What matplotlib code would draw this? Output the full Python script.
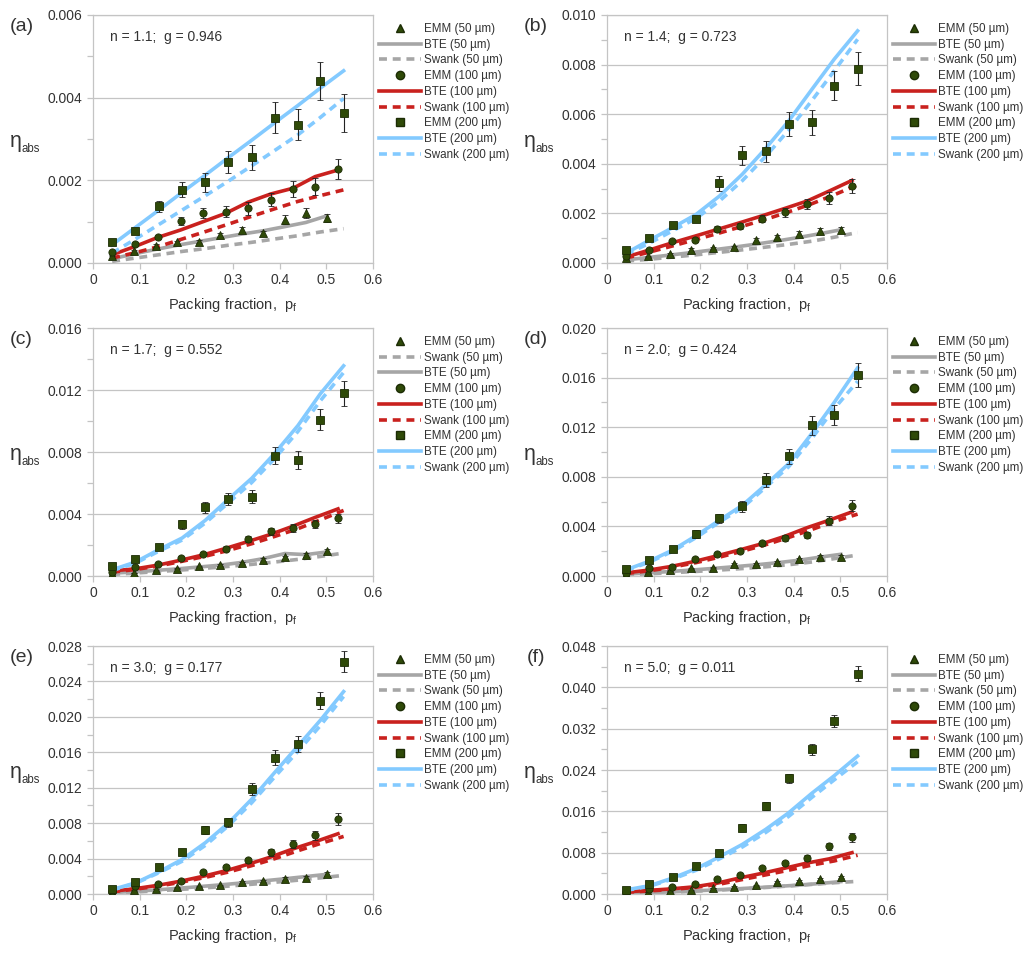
import numpy as np
import matplotlib
matplotlib.use("Agg")
import matplotlib.pyplot as plt
from matplotlib.lines import Line2D
from matplotlib.ticker import MultipleLocator, FormatStrFormatter

plt.rcParams['font.family'] = ['Liberation Sans', 'DejaVu Sans']
plt.rcParams['mathtext.fontset'] = 'custom'
plt.rcParams['mathtext.rm'] = 'Liberation Sans'
plt.rcParams['mathtext.it'] = 'Liberation Sans'

# packing fraction positions (50, 100, 200 um samples)
x_tri = [0.041, 0.088, 0.135, 0.181, 0.227, 0.273, 0.319, 0.365, 0.411, 0.456, 0.501]
x_circ = [0.041, 0.090, 0.139, 0.188, 0.236, 0.284, 0.332, 0.381, 0.429, 0.476, 0.525]
x_sq = [0.041, 0.091, 0.141, 0.191, 0.241, 0.290, 0.340, 0.389, 0.439, 0.487, 0.537]

panel_tags = ['(a)', '(b)', '(c)', '(d)', '(e)', '(f)']
n_vals = ['1.1', '1.4', '1.7', '2.0', '3.0', '5.0']
g_vals = ['0.946', '0.723', '0.552', '0.424', '0.177', '0.011']
y_max = [0.006, 0.010, 0.016, 0.020, 0.028, 0.048]
y_step = [0.002, 0.002, 0.004, 0.004, 0.004, 0.008]

# EMM results, one row per panel a..f
emm50 = [
    [0.00018, 0.00028, 0.00042, 0.00050, 0.00052, 0.00068, 0.00080, 0.00072, 0.00105, 0.00121, 0.00109],
    [0.00020, 0.00027, 0.00038, 0.00054, 0.00060, 0.00063, 0.00094, 0.00103, 0.00117, 0.00130, 0.00134],
    [0.00010, 0.00020, 0.00036, 0.00047, 0.00062, 0.00073, 0.00086, 0.00105, 0.00120, 0.00137, 0.00161],
    [0.00020, 0.00030, 0.00048, 0.00062, 0.00067, 0.00097, 0.00094, 0.00110, 0.00134, 0.00155, 0.00155],
    [0.00019, 0.00040, 0.00056, 0.00075, 0.00086, 0.00098, 0.00135, 0.00150, 0.00173, 0.00184, 0.00226],
    [0.00020, 0.00040, 0.00050, 0.00070, 0.00116, 0.00135, 0.00167, 0.00225, 0.00245, 0.00290, 0.00328],
]
emm50_err = [
    [0.00002, 0.00003, 0.00004, 0.00004, 0.00004, 0.00005, 0.00007, 0.00006, 0.00010, 0.00011, 0.00010],
    [0.00002, 0.00003, 0.00004, 0.00005, 0.00005, 0.00006, 0.00008, 0.00010, 0.00011, 0.00013, 0.00013],
    [0.00001, 0.00002, 0.00003, 0.00004, 0.00005, 0.00006, 0.00007, 0.00009, 0.00010, 0.00012, 0.00014],
    [0.00002, 0.00003, 0.00004, 0.00005, 0.00006, 0.00008, 0.00008, 0.00009, 0.00011, 0.00013, 0.00013],
    [0.00002, 0.00003, 0.00005, 0.00006, 0.00007, 0.00008, 0.00011, 0.00012, 0.00014, 0.00015, 0.00018],
    [0.00002, 0.00003, 0.00004, 0.00006, 0.00009, 0.00011, 0.00013, 0.00018, 0.00020, 0.00023, 0.00026],
]
emm100 = [
    [0.00026, 0.00047, 0.00063, 0.00102, 0.00121, 0.00124, 0.00132, 0.00153, 0.00179, 0.00185, 0.00228],
    [0.00027, 0.00051, 0.00087, 0.00094, 0.00137, 0.00150, 0.00179, 0.00205, 0.00238, 0.00262, 0.00309],
    [0.00026, 0.00058, 0.00077, 0.00118, 0.00140, 0.00176, 0.00236, 0.00288, 0.00309, 0.00337, 0.00373],
    [0.00027, 0.00062, 0.00075, 0.00134, 0.00174, 0.00204, 0.00263, 0.00308, 0.00330, 0.00445, 0.00566],
    [0.00030, 0.00086, 0.00113, 0.00150, 0.00244, 0.00305, 0.00380, 0.00470, 0.00568, 0.00662, 0.00846],
    [0.00040, 0.00097, 0.00135, 0.00200, 0.00290, 0.00360, 0.00500, 0.00600, 0.00695, 0.00920, 0.01100],
]
emm100_err = [
    [0.00002, 0.00004, 0.00005, 0.00009, 0.00012, 0.00013, 0.00015, 0.00016, 0.00020, 0.00020, 0.00024],
    [0.00002, 0.00004, 0.00007, 0.00008, 0.00011, 0.00012, 0.00015, 0.00018, 0.00022, 0.00025, 0.00028],
    [0.00002, 0.00005, 0.00006, 0.00010, 0.00012, 0.00015, 0.00019, 0.00023, 0.00025, 0.00027, 0.00030],
    [0.00002, 0.00005, 0.00006, 0.00011, 0.00014, 0.00017, 0.00021, 0.00025, 0.00027, 0.00036, 0.00045],
    [0.00002, 0.00007, 0.00009, 0.00012, 0.00020, 0.00025, 0.00030, 0.00038, 0.00045, 0.00053, 0.00068],
    [0.00003, 0.00008, 0.00011, 0.00016, 0.00023, 0.00029, 0.00040, 0.00048, 0.00056, 0.00074, 0.00088],
]
emm200 = [
    [0.00050, 0.00078, 0.00137, 0.00177, 0.00195, 0.00244, 0.00256, 0.00352, 0.00335, 0.00441, 0.00362],
    [0.00051, 0.00101, 0.00152, 0.00179, 0.00322, 0.00434, 0.00450, 0.00561, 0.00568, 0.00715, 0.00784],
    [0.00062, 0.00112, 0.00185, 0.00333, 0.00444, 0.00498, 0.00511, 0.00777, 0.00749, 0.01009, 0.01178],
    [0.00056, 0.00129, 0.00214, 0.00338, 0.00464, 0.00563, 0.00777, 0.00965, 0.01214, 0.01300, 0.01622],
    [0.00060, 0.00132, 0.00301, 0.00470, 0.00726, 0.00808, 0.01188, 0.01541, 0.01695, 0.02184, 0.02624],
    [0.00084, 0.00193, 0.00322, 0.00534, 0.00792, 0.01287, 0.01705, 0.02240, 0.02800, 0.03346, 0.04266],
]
emm200_err = [
    [0.00004, 0.00006, 0.00014, 0.00018, 0.00023, 0.00027, 0.00030, 0.00037, 0.00038, 0.00046, 0.00046],
    [0.00004, 0.00008, 0.00010, 0.00012, 0.00030, 0.00037, 0.00043, 0.00048, 0.00050, 0.00059, 0.00065],
    [0.00005, 0.00009, 0.00012, 0.00030, 0.00035, 0.00040, 0.00043, 0.00054, 0.00056, 0.00070, 0.00080],
    [0.00005, 0.00010, 0.00020, 0.00030, 0.00040, 0.00044, 0.00056, 0.00063, 0.00074, 0.00080, 0.00094],
    [0.00005, 0.00010, 0.00020, 0.00030, 0.00045, 0.00050, 0.00066, 0.00080, 0.00090, 0.00100, 0.00120],
    [0.00007, 0.00015, 0.00030, 0.00040, 0.00050, 0.00060, 0.00080, 0.00090, 0.00100, 0.00120, 0.00150],
]

# BTE model curves
bte50 = [
    [0.00010, 0.00022, 0.00033, 0.00043, 0.00052, 0.00061, 0.00070, 0.00078, 0.00088, 0.00098, 0.00114],
    [0.00013, 0.00022, 0.00032, 0.00042, 0.00053, 0.00064, 0.00076, 0.00089, 0.00103, 0.00118, 0.00134],
    [0.00018, 0.00026, 0.00036, 0.00046, 0.00058, 0.00070, 0.00088, 0.00112, 0.00145, 0.00138, 0.00155],
    [0.00015, 0.00025, 0.00036, 0.00048, 0.00061, 0.00075, 0.00090, 0.00107, 0.00127, 0.00152, 0.00175],
    [0.00015, 0.00030, 0.00046, 0.00064, 0.00083, 0.00103, 0.00125, 0.00148, 0.00172, 0.00197, 0.00222],
    [0.00010, 0.00024, 0.00040, 0.00058, 0.00077, 0.00098, 0.00121, 0.00146, 0.00173, 0.00203, 0.00240],
]
bte100 = [
    [0.00020, 0.00040, 0.00062, 0.00080, 0.00100, 0.00120, 0.00147, 0.00167, 0.00181, 0.00209, 0.00225],
    [0.00024, 0.00052, 0.00081, 0.00108, 0.00135, 0.00162, 0.00190, 0.00220, 0.00250, 0.00290, 0.00333],
    [0.00033, 0.00046, 0.00070, 0.00102, 0.00136, 0.00178, 0.00222, 0.00269, 0.00322, 0.00378, 0.00433],
    [0.00025, 0.00048, 0.00078, 0.00118, 0.00163, 0.00210, 0.00260, 0.00320, 0.00390, 0.00450, 0.00517],
    [0.00030, 0.00060, 0.00098, 0.00145, 0.00200, 0.00262, 0.00335, 0.00418, 0.00510, 0.00590, 0.00680],
    [0.00040, 0.00070, 0.00100, 0.00140, 0.00210, 0.00310, 0.00400, 0.00500, 0.00600, 0.00680, 0.00800],
]
bte200 = [
    [0.00044, 0.00086, 0.00128, 0.00171, 0.00213, 0.00255, 0.00297, 0.00339, 0.00381, 0.00423, 0.00465],
    [0.00040, 0.00092, 0.00143, 0.00196, 0.00270, 0.00358, 0.00462, 0.00572, 0.00700, 0.00822, 0.00936],
    [0.00040, 0.00090, 0.00170, 0.00245, 0.00360, 0.00495, 0.00630, 0.00790, 0.00970, 0.01175, 0.01356],
    [0.00050, 0.00120, 0.00210, 0.00325, 0.00450, 0.00570, 0.00735, 0.00905, 0.01150, 0.01400, 0.01678],
    [0.00050, 0.00125, 0.00250, 0.00390, 0.00580, 0.00800, 0.01070, 0.01370, 0.01670, 0.01960, 0.02285],
    [0.00080, 0.00160, 0.00310, 0.00490, 0.00720, 0.00960, 0.01250, 0.01570, 0.01950, 0.02290, 0.02670],
]

# Swank model curves
swank50 = [
    [0.00004, 0.00012, 0.00020, 0.00028, 0.00035, 0.00043, 0.00050, 0.00058, 0.00066, 0.00075, 0.00083],
    [0.00008, 0.00015, 0.00024, 0.00033, 0.00043, 0.00053, 0.00064, 0.00075, 0.00088, 0.00104, 0.00123],
    [0.00010, 0.00019, 0.00029, 0.00039, 0.00050, 0.00062, 0.00075, 0.00090, 0.00107, 0.00126, 0.00148],
    [0.00010, 0.00018, 0.00027, 0.00037, 0.00048, 0.00060, 0.00074, 0.00091, 0.00113, 0.00140, 0.00169],
    [0.00010, 0.00022, 0.00037, 0.00053, 0.00070, 0.00089, 0.00110, 0.00132, 0.00156, 0.00182, 0.00210],
    [0.00008, 0.00020, 0.00036, 0.00055, 0.00076, 0.00100, 0.00126, 0.00155, 0.00186, 0.00218, 0.00245],
]
swank100 = [
    [0.00012, 0.00025, 0.00040, 0.00058, 0.00076, 0.00094, 0.00113, 0.00131, 0.00149, 0.00163, 0.00177],
    [0.00020, 0.00044, 0.00069, 0.00095, 0.00121, 0.00148, 0.00176, 0.00206, 0.00239, 0.00275, 0.00315],
    [0.00025, 0.00042, 0.00065, 0.00095, 0.00128, 0.00165, 0.00208, 0.00255, 0.00305, 0.00362, 0.00423],
    [0.00020, 0.00042, 0.00072, 0.00108, 0.00152, 0.00200, 0.00252, 0.00310, 0.00375, 0.00440, 0.00499],
    [0.00025, 0.00055, 0.00090, 0.00135, 0.00188, 0.00248, 0.00320, 0.00398, 0.00488, 0.00570, 0.00650],
    [0.00030, 0.00060, 0.00090, 0.00130, 0.00190, 0.00280, 0.00370, 0.00460, 0.00560, 0.00640, 0.00750],
]
swank200 = [
    [0.00024, 0.00058, 0.00093, 0.00128, 0.00163, 0.00198, 0.00235, 0.00272, 0.00310, 0.00352, 0.00398],
    [0.00035, 0.00080, 0.00130, 0.00180, 0.00250, 0.00332, 0.00430, 0.00535, 0.00655, 0.00775, 0.00902],
    [0.00035, 0.00083, 0.00160, 0.00232, 0.00343, 0.00472, 0.00603, 0.00757, 0.00932, 0.01130, 0.01313],
    [0.00045, 0.00112, 0.00200, 0.00310, 0.00435, 0.00550, 0.00715, 0.00880, 0.01110, 0.01350, 0.01570],
    [0.00045, 0.00120, 0.00240, 0.00370, 0.00550, 0.00770, 0.01030, 0.01320, 0.01610, 0.01900, 0.02230],
    [0.00070, 0.00150, 0.00290, 0.00460, 0.00680, 0.00910, 0.01190, 0.01500, 0.01870, 0.02210, 0.02560],
]

GRAY = '#a6a6a6'
RED = '#c9211e'
BLUE = '#83caff'
MK_FACE = '#2f4a08'
MK_EDGE = '#1c2c05'
TXT = '#333333'
FRAME = '#c4c4c4'

W, H = 1025, 956
fig = plt.figure(figsize=(W / 100, H / 100), dpi=100)

# axes boxes in pixels: left, top
lefts = [93, 607]
tops = [15, 328, 646]
ax_w, ax_h = 280, 248

lw = 2.6
dash = (2.2, 1.6)
leg_fs = 8.4

for k in range(6):
    row, col = k // 2, k % 2
    l, t = lefts[col], tops[row]
    ax = fig.add_axes([l / W, 1 - (t + ax_h) / H, ax_w / W, ax_h / H])

    # model lines
    ax.plot(x_tri, bte50[k], color=GRAY, lw=lw, zorder=2)
    ax.plot(x_sq, swank50[k], color=GRAY, lw=lw, dashes=dash, zorder=2)
    ax.plot(x_circ, bte100[k], color=RED, lw=lw, zorder=2)
    ax.plot(x_sq, swank100[k], color=RED, lw=lw, dashes=dash, zorder=2)
    ax.plot(x_sq, bte200[k], color=BLUE, lw=lw, zorder=2)
    ax.plot(x_sq, swank200[k], color=BLUE, lw=lw, dashes=dash, zorder=2)

    # EMM data with error bars
    for xs, ys, es, mk, ms in [(x_tri, emm50[k], emm50_err[k], '^', 5.5),
                               (x_circ, emm100[k], emm100_err[k], 'o', 5.2),
                               (x_sq, emm200[k], emm200_err[k], 's', 5.2)]:
        ax.errorbar(xs, ys, yerr=es, fmt=mk, ms=ms, mfc=MK_FACE, mec=MK_EDGE, mew=0.6,
                    ecolor='#222222', elinewidth=0.8, capsize=2.2, capthick=0.8, zorder=4)

    ax.set_xlim(0, 0.6)
    ax.set_ylim(0, y_max[k])
    ax.xaxis.set_major_locator(MultipleLocator(0.1))
    ax.yaxis.set_major_locator(MultipleLocator(y_step[k]))
    ax.yaxis.set_minor_locator(MultipleLocator(y_step[k] / 2))
    ax.yaxis.set_major_formatter(FormatStrFormatter('%.3f'))
    ax.xaxis.set_major_formatter(lambda v, p: '0' if abs(v) < 1e-9 else f'{v:.1f}')
    ax.grid(axis='y', which='major', color=FRAME, lw=0.9, zorder=0)
    for s in ax.spines.values():
        s.set_color(FRAME)
        s.set_linewidth(0.9)
    ax.tick_params(axis='both', which='both', colors=FRAME, labelcolor=TXT, labelsize=10)
    ax.tick_params(axis='x', length=4, width=0.9, pad=3)
    ax.tick_params(axis='y', which='major', length=4, width=0.9, pad=4)
    ax.tick_params(axis='y', which='minor', length=4, width=0.9)
    ax.set_axisbelow(True)

    ax.set_xlabel('Packing fraction,  p$_\\mathregular{f}$', fontsize=10.5, color=TXT, labelpad=7)
    # eta_abs label built from two texts
    ax.text(-0.296, 0.468, 'η', transform=ax.transAxes, fontsize=15.5,
            color=TXT, ha='left', va='baseline')
    ax.text(-0.254, 0.448, 'abs', transform=ax.transAxes, fontsize=8.3,
            color=TXT, ha='left', va='baseline')
    ax.text(-0.255, 0.955, panel_tags[k], transform=ax.transAxes, fontsize=14,
            color=TXT, ha='center', va='center')
    ax.text(0.06, 0.91, f'n = {n_vals[k]};  g = {g_vals[k]}', transform=ax.transAxes,
            fontsize=10, color=TXT, ha='left', va='center')

    h_e50 = Line2D([], [], ls='none', marker='^', ms=6, mfc=MK_FACE, mec=MK_EDGE)
    h_e100 = Line2D([], [], ls='none', marker='o', ms=6, mfc=MK_FACE, mec=MK_EDGE)
    h_e200 = Line2D([], [], ls='none', marker='s', ms=6, mfc=MK_FACE, mec=MK_EDGE)
    h_b50 = Line2D([], [], color=GRAY, lw=lw)
    h_s50 = Line2D([], [], color=GRAY, lw=lw, dashes=dash)
    h_b100 = Line2D([], [], color=RED, lw=lw)
    h_s100 = Line2D([], [], color=RED, lw=lw, dashes=dash)
    h_b200 = Line2D([], [], color=BLUE, lw=lw)
    h_s200 = Line2D([], [], color=BLUE, lw=lw, dashes=dash)
    if k == 2:
        handles = [h_e50, h_s50, h_b50, h_e100, h_b100, h_s100, h_e200, h_b200, h_s200]
        labels = ['EMM (50 µm)', 'Swank (50 µm)', 'BTE (50 µm)', 'EMM (100 µm)', 'BTE (100 µm)',
                  'Swank (100 µm)', 'EMM (200 µm)', 'BTE (200 µm)', 'Swank (200 µm)']
    else:
        handles = [h_e50, h_b50, h_s50, h_e100, h_b100, h_s100, h_e200, h_b200, h_s200]
        labels = ['EMM (50 µm)', 'BTE (50 µm)', 'Swank (50 µm)', 'EMM (100 µm)', 'BTE (100 µm)',
                  'Swank (100 µm)', 'EMM (200 µm)', 'BTE (200 µm)', 'Swank (200 µm)']
    leg = ax.legend(handles, labels, loc='upper left', bbox_to_anchor=(1.021, 0.968),
                    frameon=False, fontsize=leg_fs, borderpad=0, borderaxespad=0,
                    handlelength=3.65, handletextpad=0.22, labelspacing=0.32, numpoints=1)
    for tx in leg.get_texts():
        tx.set_color(TXT)

fig.savefig('out.png', dpi=100)
